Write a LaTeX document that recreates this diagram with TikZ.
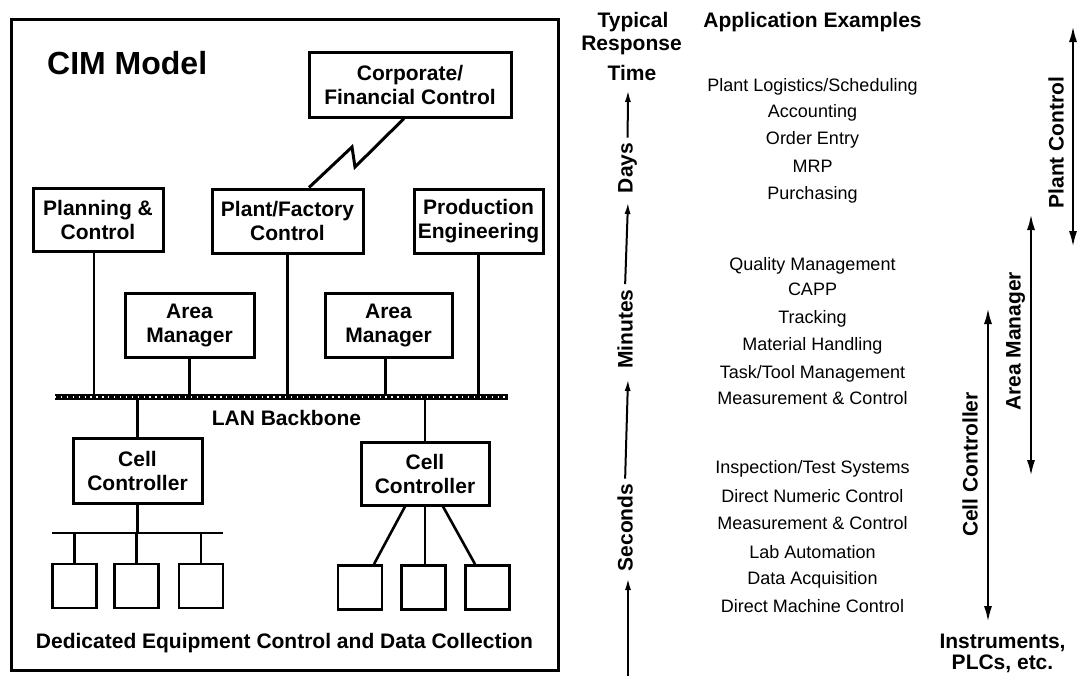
\documentclass[tikz,border=0pt]{standalone}
\usepackage{fontspec}
\setmainfont{Liberation Sans}
\usetikzlibrary{arrows.meta}

\newcommand{\cimbold}{\fontsize{21}{24}\selectfont\bfseries}
\newcommand{\cimplain}{\fontsize{18}{22}\selectfont}

\begin{document}
\begin{tikzpicture}[x=1pt, y=-1pt,
    box/.style={draw, line width=3pt, align=center, font=\cimbold, inner sep=0pt},
    unit/.style={draw, line width=2.8pt, minimum width=44pt, minimum height=44pt, inner sep=0pt},
    wire/.style={line width=2.6pt},
    lan/.style={line width=5.5pt, postaction={draw=white, line width=1.3pt, dash pattern=on 1.3pt off 4.6pt}},
    head/.style={font=\cimbold, anchor=base, inner sep=0pt},
    app/.style={font=\cimplain, anchor=base, inner sep=0pt},
    side/.style={font=\cimbold, rotate=90, anchor=mid, inner sep=5pt},
    timeaxis/.style={line width=2pt, -{Latex[length=12pt,width=6pt]}},
    reach/.style={line width=2.8pt, {Latex[length=17pt,width=8pt]}-{Latex[length=17pt,width=8pt]}},
]
    \useasboundingbox (0,0) rectangle (1081,675);

    % Frame of the CIM model
    \draw[line width=3pt] (11,19) rectangle (558,670);
    \node[font=\fontsize{32}{36}\selectfont\bfseries, anchor=base west, inner sep=0pt] (title) at (47,74) {CIM Model};

    % Define positions of the nodes
    \node[box, minimum width=202pt, minimum height=65pt] (corp) at (410,84.5) {Corporate/\\Financial Control};
    \node[box, minimum width=130pt, minimum height=63pt] (plan) at (98,219.5) {Planning \&\\Control};
    \node[box, minimum width=151pt, minimum height=64pt] (plant) at (287.5,221) {Plant/Factory\\Control};
    \node[box, minimum width=129pt, minimum height=64pt] (prod) at (478.5,221) {Production\\Engineering};
    \node[box, minimum width=129pt, minimum height=64pt] (am1) at (189.5,325) {Area\\Manager};
    \node[box, minimum width=127pt, minimum height=64pt] (am2) at (388.5,325) {Area\\Manager};
    \node[box, minimum width=129pt, minimum height=65pt] (cc1) at (137.5,470.5) {Cell\\Controller};
    \node[box, minimum width=128pt, minimum height=63pt] (cc2) at (425,473.5) {Cell\\Controller};

    \node[unit] (u1) at (74.5,586) {};
    \node[unit] (u2) at (136.5,586) {};
    \node[unit] (u3) at (201,586) {};
    \node[unit] (u4) at (360,587.5) {};
    \node[unit] (u5) at (423.5,587.5) {};
    \node[unit] (u6) at (487.5,587.5) {};

    \coordinate (lanW) at (55,397);
    \coordinate (lanE) at (508,397);
    \coordinate (busW) at (52,533);
    \coordinate (busE) at (223,533);

    % Draw the links
    \draw[line width=3pt] ([xshift=21.5pt]plant.north) -- (352,147) -- (355,167) -- ([xshift=-6pt]corp.south);
    \draw[wire] ([xshift=-4pt]plan.south) -- ([xshift=-4pt]plan.south |- lanW);
    \draw[wire] (plant.south) -- (plant.south |- lanW);
    \draw[wire] (prod.south) -- (prod.south |- lanW);
    \draw[wire] (am1.south) -- (am1.south |- lanW);
    \draw[wire] ([xshift=-3pt]am2.south) -- ([xshift=-3pt]am2.south |- lanW);
    \draw[wire] (cc1.north |- lanW) -- (cc1.north);
    \draw[wire] (cc2.north |- lanW) -- (cc2.north);
    \draw[lan] (lanW) -- (lanE);

    \draw[wire] (busW) -- (busE);
    \draw[wire] (cc1.south) -- (cc1.south |- busW);
    \draw[wire] (u1.north |- busW) -- (u1.north);
    \draw[wire] (u2.north |- busW) -- (u2.north);
    \draw[wire] (u3.north |- busW) -- (u3.north);
    \draw[wire] ([xshift=-20pt]cc2.south) -- ([xshift=14pt]u4.north);
    \draw[wire] (cc2.south) -- (cc2.south |- u5.north);
    \draw[wire] ([xshift=18pt]cc2.south) -- ([xshift=-12.5pt]u6.north);

    \node[font=\cimbold, inner sep=0pt] (lanlbl) at (286.5,418) {LAN Backbone};
    \node[head] (bottom) at (284.5,648) {Dedicated Equipment Control and Data Collection};

    % Response time axis
    \node[head] (typ) at (633,27) {Typical};
    \node[head] (resp) at (631.5,50) {Response};
    \node[head] (time) at (632,80) {Time};
    \node[side] (days) at (630,168) {Days};
    \node[side] (mins) at (630,329) {Minutes};
    \node[side] (secs) at (630,527.5) {Seconds};
    \coordinate (dTip) at (628,90);
    \coordinate (mTip) at (628,202);
    \coordinate (sTip) at (628,379);
    \coordinate (bTip) at (628,578);
    \coordinate (bEnd) at (628,676);
    \draw[timeaxis] (days.east) -- (dTip);
    \draw[timeaxis] (mins.east) -- (mTip);
    \draw[timeaxis] (secs.east) -- (sTip);
    \draw[timeaxis] (bEnd) -- (bTip);

    % Application examples
    \node[head] (apphead) at (812.5,27) {Application Examples};
    \node[app] (a1) at (812.5,91) {Plant Logistics/Scheduling};
    \node[app] (a2) at (812.5,117) {Accounting};
    \node[app] (a3) at (812.5,144.5) {Order Entry};
    \node[app] (a4) at (812.5,172.5) {MRP};
    \node[app] (a5) at (812.5,199.5) {Purchasing};
    \node[app] (a6) at (812.5,270.5) {Quality Management};
    \node[app] (a7) at (812.5,295.5) {CAPP};
    \node[app] (a8) at (812.5,323.5) {Tracking};
    \node[app] (a9) at (812.5,350.5) {Material Handling};
    \node[app] (a10) at (812.5,378.5) {Task/Tool Management};
    \node[app] (a11) at (812.5,404.5) {Measurement \& Control};
    \node[app] (a12) at (812.5,473.5) {Inspection/Test Systems};
    \node[app] (a13) at (812.5,502.5) {Direct Numeric Control};
    \node[app] (a14) at (812.5,529.5) {Measurement \& Control};
    \node[app] (a15) at (812.5,558.5) {Lab Automation};
    \node[app] (a16) at (812.5,584.5) {Data Acquisition};
    \node[app] (a17) at (812.5,612.5) {Direct Machine Control};

    % Control levels
    \coordinate (pcTop) at (1073,25);
    \coordinate (pcBot) at (1073,248);
    \coordinate (amTop) at (1031,213);
    \coordinate (amBot) at (1031,477);
    \coordinate (ccTop) at (988,307);
    \coordinate (ccBot) at (988,623);
    \draw[reach] (pcTop) -- (pcBot);
    \draw[reach] (amTop) -- (amBot);
    \draw[reach] (ccTop) -- (ccBot);
    \node[side] (pclbl) at (1061,142.5) {Plant Control};
    \node[side] (amlbl) at (1018,341.5) {Area Manager};
    \node[side] (cclbl) at (975,464.5) {Cell Controller};
    \node[head] (instr) at (1002.5,648) {Instruments,};
    \node[head] (plcs) at (1002.5,669) {PLCs, etc.};
\end{tikzpicture}
\end{document}
